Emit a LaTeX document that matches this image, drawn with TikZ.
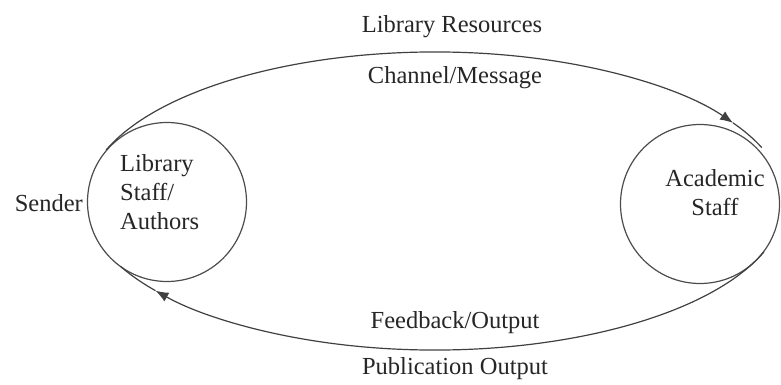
\documentclass[tikz,border=0pt]{standalone}
\usepackage{fontspec}
\setmainfont{Liberation Serif}
\usetikzlibrary{arrows.meta}
\begin{document}
\begin{tikzpicture}[x=1pt,y=-1pt,
  lbl/.style={font=\fontsize{24.5pt}{29pt}\selectfont, text=black!85, inner sep=0pt},
  party/.style={circle, draw=black!70, line width=1.2pt, minimum size=159pt, inner sep=0pt},
  flow/.style={draw=black!75, line width=1.2pt},
  tip/.style={-{Latex[length=13pt,width=10pt]}}
]
\useasboundingbox (0,0) rectangle (781,385);

% the two communicating parties
\node[party] (sender) at (167,202) {};
\node[party] (receiver) at (700,204) {};

% centre of the communication loop
\coordinate (loop) at (435,201);

% upper path: sender to receiver
\draw[flow,tip] (loop) ++(160:350pt and 149pt) coordinate (topstart)
  arc[start angle=160, end angle=31.6, x radius=350pt, y radius=149pt] coordinate (toptip);
\draw[flow] (toptip) arc[start angle=31.6, end angle=21, x radius=350pt, y radius=149pt];

% lower path: receiver back to sender
\draw[flow,tip] (loop) ++(340:350pt and 149pt) coordinate (botstart)
  arc[start angle=340, end angle=217, x radius=350pt, y radius=149pt] coordinate (bottip);
\draw[flow] (bottip) arc[start angle=217, end angle=206, x radius=350pt, y radius=149pt];

% labels
\node[lbl, align=left, anchor=west] (sendertxt) at (120,192) {Library\\Staff/\\Authors};
\node[lbl, align=center] (receivertxt) at (715,193) {Academic\\Staff};
\node[lbl, anchor=east] (senderlbl) at (83,203) {Sender};
\node[lbl] (resources) at (452,27) {Library Resources};
\node[lbl] (channel) at (455,78) {Channel/Message};
\node[lbl] (feedback) at (455,323) {Feedback/Output};
\node[lbl] (publication) at (455,369) {Publication Output};
\end{tikzpicture}
\end{document}
